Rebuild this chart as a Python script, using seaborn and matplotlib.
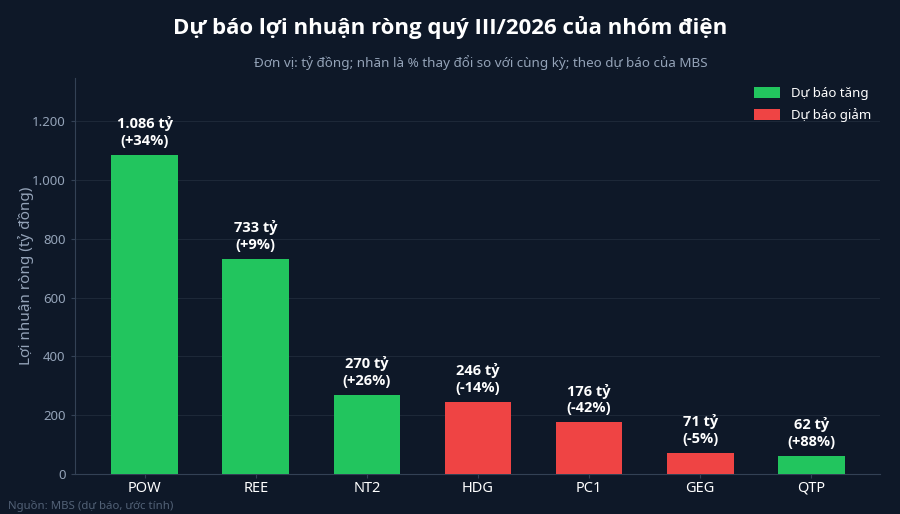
import matplotlib
matplotlib.use('Agg')
import matplotlib.pyplot as plt
import matplotlib.ticker as mticker
import pandas as pd
import seaborn as sns

tickers = ['POW', 'REE', 'NT2', 'HDG', 'PC1', 'GEG', 'QTP']
profit = [1086, 733, 270, 246, 176, 71, 62]
change_pct = [34, 9, 26, -14, -42, -5, 88]

UP = 'Dự báo tăng'
DOWN = 'Dự báo giảm'

BG = '#0e1828'
GREEN = '#22c55e'
RED = '#ef4444'
MUTED = '#94a3b8'
BOLD_FONT = ['Open Sans', 'DejaVu Sans']

df = pd.DataFrame({'ticker': tickers, 'profit': profit, 'change': change_pct})
df['trend'] = [UP if c > 0 else DOWN for c in df['change']]

sns.set_style('dark')
plt.rcParams['font.family'] = ['Noto Sans', 'DejaVu Sans']

fig = plt.figure(figsize=(9, 5.14), dpi=100, facecolor=BG)
ax = fig.add_axes([0.083, 0.078, 0.895, 0.770])
ax.set_facecolor(BG)

sns.barplot(data=df, x='ticker', y='profit', hue='trend', hue_order=[UP, DOWN],
            palette={UP: GREEN, DOWN: RED}, dodge=False, width=0.6,
            saturation=1, linewidth=0, edgecolor='none', ax=ax, zorder=3)

for i, row in df.iterrows():
    label = f"{row['profit']:,} tỷ".replace(',', '.') + f"\n({row['change']:+d}%)"
    ax.annotate(label, (i, row['profit']), xytext=(0, 5), textcoords='offset points',
                ha='center', va='bottom', color='white', fontsize=10.5,
                fontweight='bold', family=BOLD_FONT, linespacing=1.25)

ax.set_xlim(-0.63, 6.62)
ax.set_ylim(0, 1347)
ax.yaxis.set_major_locator(mticker.MultipleLocator(200))
ax.yaxis.set_major_formatter(mticker.FuncFormatter(lambda v, p: f'{int(v):,}'.replace(',', '.')))
ax.grid(axis='y', color='#1d2838', linewidth=0.8, zorder=0)
ax.grid(axis='x', visible=False)

for side in ['top', 'right']:
    ax.spines[side].set_visible(False)
for side in ['left', 'bottom']:
    ax.spines[side].set_visible(True)
    ax.spines[side].set_color('#334155')
    ax.spines[side].set_linewidth(0.8)

ax.tick_params(axis='y', colors='#334155', labelcolor=MUTED, labelsize=9.5, length=3, left=True)
ax.tick_params(axis='x', colors='#334155', labelcolor='white', labelsize=10.5, length=3,
               bottom=True, pad=2)
ax.set_xlabel('')
ax.set_ylabel('Lợi nhuận ròng (tỷ đồng)', color=MUTED, fontsize=11)
ax.yaxis.set_label_coords(-0.051, 0.5)

leg = ax.legend(loc='upper right', frameon=False, fontsize=9.5, labelcolor='white',
                handlelength=2.0, handleheight=0.9, borderaxespad=0.3, labelspacing=0.6)
leg.set_title(None)

fig.text(0.5, 0.947, 'Dự báo lợi nhuận ròng quý III/2026 của nhóm điện', ha='center',
         va='center', color='white', fontsize=16, fontweight='bold', family=BOLD_FONT)
fig.text(0.534, 0.879, 'Đơn vị: tỷ đồng; nhãn là % thay đổi so với cùng kỳ; theo dự báo của MBS',
         ha='center', va='center', color=MUTED, fontsize=9.7)
fig.text(0.009, 0.016, 'Nguồn: MBS (dự báo, ước tính)', ha='left', va='center',
         color='#526176', fontsize=8.2)

fig.savefig('out.png', dpi=100, facecolor=BG)
